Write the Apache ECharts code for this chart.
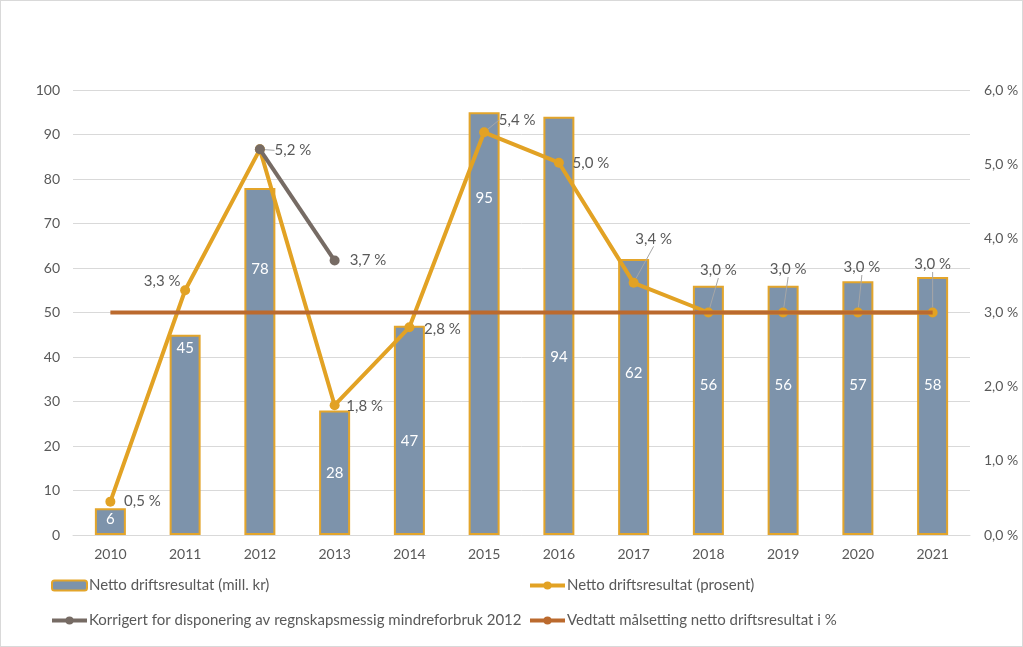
<!DOCTYPE html>
<html><head><meta charset="utf-8">
<script src="https://cdn.jsdelivr.net/npm/echarts@6/dist/echarts.min.js"></script>
<style>html,body{margin:0;padding:0;background:#fff}#c{width:1021px;height:645px;border:1px solid #d9d9d9}</style>
</head><body><div id="c"></div>
<script>
const years = ['2010','2011','2012','2013','2014','2015','2016','2017','2018','2019','2020','2021'];
const nettoMill = [6,45,78,28,47,95,94,62,56,56,57,58];
const nettoPct = [0.45,3.3,5.2,1.75,2.8,5.43,5.02,3.4,3.0,3.0,3.0,3.0];
const korrigert = [null,null,5.2,3.7,null,null,null,null,null,null,null,null];
const maal = [3.0,3.0,3.0,3.0,3.0,3.0,3.0,3.0,3.0,3.0,3.0,3.0];
const leftTicks = [0,100,10];
const rightTicks = [0,6,1];
const names = ['Netto driftsresultat (mill. kr)','Netto driftsresultat (prosent)','Korrigert for disponering av regnskapsmessig mindreforbruk 2012','Vedtatt målsetting netto driftsresultat i %'];

// styling (label placement)
const barLabelDist = [3,6,74,55,108,78,233,107,92,92,96,101];
const pctLabelOff = [[32,0],[-23,-9],[33,1],[30,1],[33,2],[33,-12],[32,0],[20,-44],[10,-42],[5,-43],[4,-45],[0,-48]];
const pctLeader = [false,false,true,false,false,true,false,true,true,true,true,true];

const FONT = 'Lato';
const TXT = '#595959';
const fmtPct = v => v.toFixed(1).replace('.', ',') + ' %';

const chart = echarts.init(document.getElementById('c'), null, {renderer:'canvas'});
const legendCommon = {orient:'vertical',itemGap:20,itemWidth:35,itemHeight:10,
  lineStyle:{width:4},textStyle:{fontFamily:FONT,fontSize:15,color:TXT,padding:[0,0,0,-3]}};
chart.setOption({
  animation:false,
  textStyle:{fontFamily:FONT,color:TXT},
  grid:{left:72,right:52,top:89,bottom:111},
  legend:[
    Object.assign({left:44,top:572,data:[names[0],names[2]]},legendCommon),
    Object.assign({left:522,top:572,data:[names[1],names[3]]},legendCommon)
  ],
  xAxis:{type:'category',data:years,axisTick:{show:false},axisLine:{lineStyle:{color:'#d9d9d9',width:1}},axisLabel:{color:TXT,fontSize:14,fontFamily:FONT,margin:12}},
  yAxis:[
    {type:'value',min:leftTicks[0],max:leftTicks[1],interval:leftTicks[2],axisLine:{show:false},axisTick:{show:false},splitLine:{lineStyle:{color:'#d9d9d9',width:1}},axisLabel:{color:TXT,fontSize:14,fontFamily:FONT,margin:13}},
    {type:'value',min:rightTicks[0],max:rightTicks[1],interval:rightTicks[2],axisLine:{show:false},axisTick:{show:false},splitLine:{show:false},axisLabel:{color:TXT,fontSize:14,fontFamily:FONT,margin:14,formatter:fmtPct}}
  ],
  series:[
    {name:names[0],type:'bar',yAxisIndex:0,barWidth:31,
     itemStyle:{color:'#7d93ab',borderColor:'#e3a52b',borderWidth:2},
     data:nettoMill.map((v,i)=>({value:v,label:{show:true,position:'insideTop',distance:barLabelDist[i],color:'#fff',fontSize:15,fontFamily:FONT}})),
     z:1},
    {name:names[1],type:'line',yAxisIndex:1,symbol:'circle',symbolSize:10,
     lineStyle:{color:'#e2a224',width:4},itemStyle:{color:'#e2a224'},
     data:nettoPct.map((v,i)=>({value:v,
       label:{show:true,position:'inside',color:TXT,fontSize:15,fontFamily:FONT,formatter:p=>fmtPct(p.value)},
       labelLine:{show:pctLeader[i],lineStyle:{color:'#a6a6a6',width:1},smooth:false,length2:0}})),
     labelLayout:p=>({dx:pctLabelOff[p.dataIndex][0],dy:pctLabelOff[p.dataIndex][1]}),
     labelLine:{show:false},
     z:3},
    {name:names[2],type:'line',yAxisIndex:1,symbol:'circle',symbolSize:10,connectNulls:false,
     lineStyle:{color:'#766b64',width:4},itemStyle:{color:'#766b64'},
     data:korrigert.map((v,i)=>({value:v,label:{show:i===3,position:'right',distance:10,color:TXT,fontSize:15,fontFamily:FONT,formatter:p=>fmtPct(p.value)}})),
     z:4},
    {name:names[3],type:'line',yAxisIndex:1,symbol:'none',
     lineStyle:{color:'#bb6a2e',width:4},itemStyle:{color:'#bb6a2e'},
     data:maal,z:5}
  ]
});
</script></body></html>
